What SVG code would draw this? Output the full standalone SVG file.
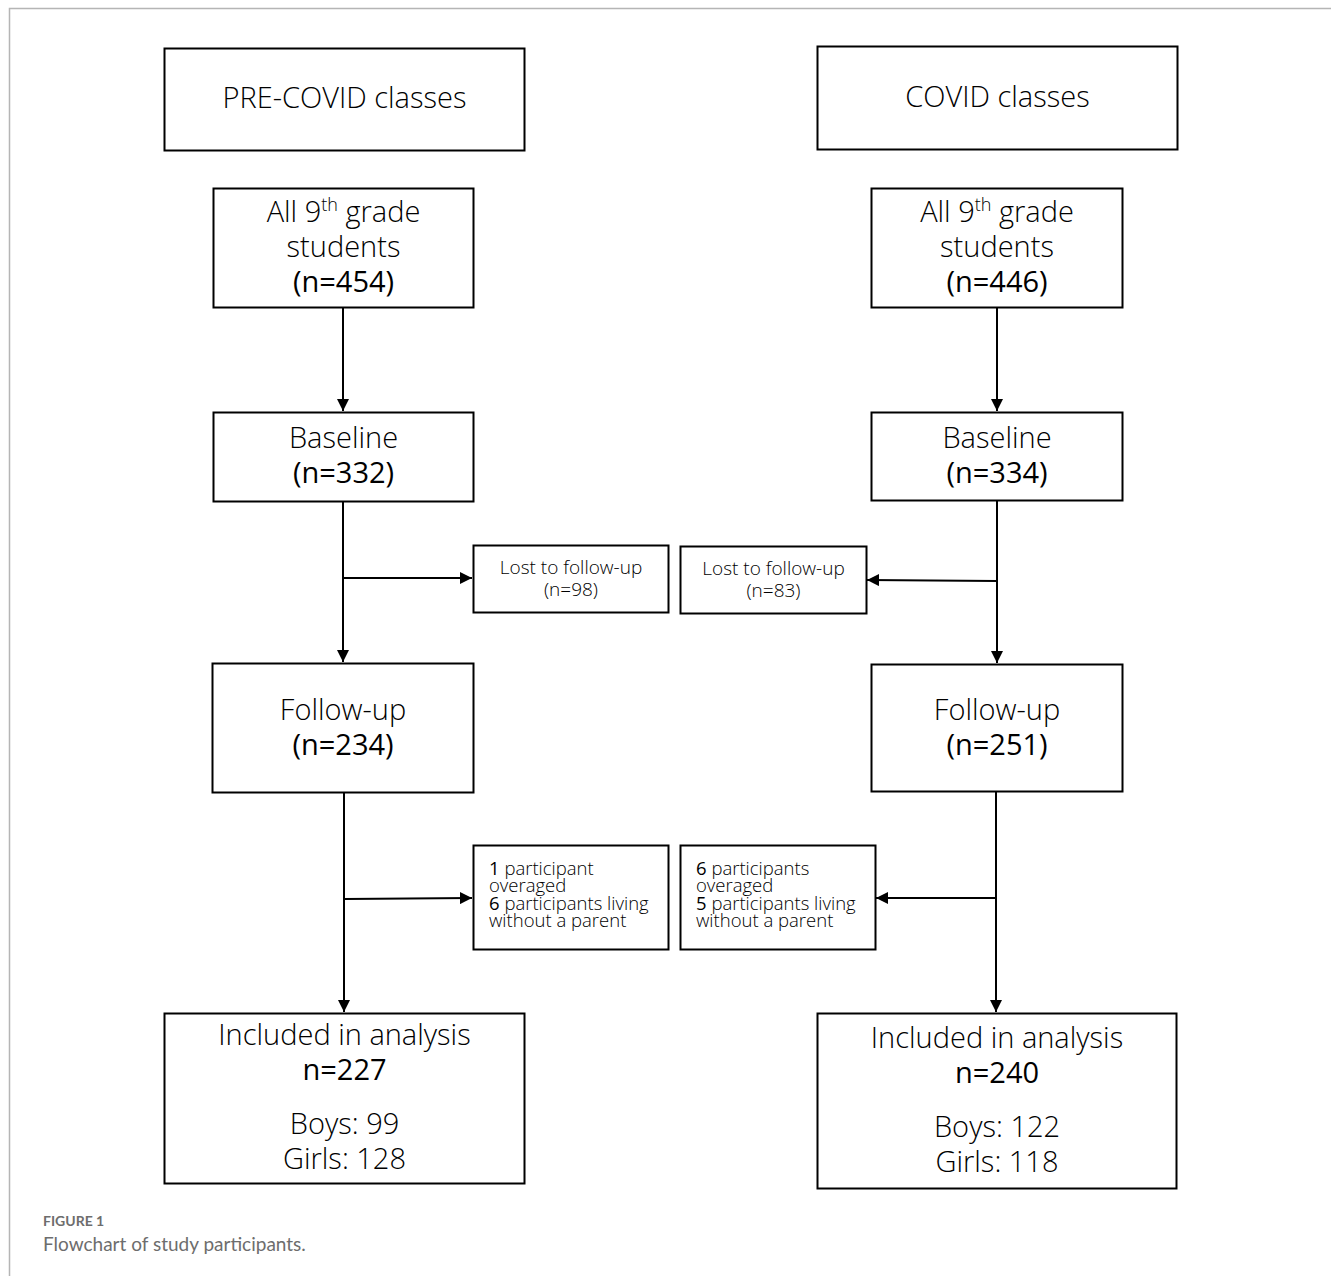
<svg xmlns="http://www.w3.org/2000/svg" width="1331" height="1276" viewBox="0 0 1331 1276">
<defs>
<marker id="ah" viewBox="0 0 10 10" refX="10" refY="5" markerWidth="6" markerHeight="6" markerUnits="strokeWidth" orient="auto">
<path d="M0,0 L10,5 L0,10 z" fill="#000"/>
</marker>
<style>
.box{fill:#fff;stroke:#000;stroke-width:2}
.t{font-family:"Open Sans","Noto Sans",sans-serif;font-weight:300;fill:#000;text-anchor:middle}
.big{font-size:29px}
.sm{font-size:19px}
.reg{font-weight:400}
.ex{font-family:"Open Sans","Noto Sans",sans-serif;font-weight:300;fill:#000;font-size:18.5px}
.ln{fill:none;stroke:#000;stroke-width:2;marker-end:url(#ah)}
.cap{font-family:"Lato","Open Sans",sans-serif;fill:#6d6d6d}
</style>
</defs>
<rect width="1331" height="1276" fill="#fff"/>
<path d="M9.5,1276 V8.5 H1331" fill="none" stroke="#b5b5b5" stroke-width="1.5"/>

<g id="connectors">
<line class="ln" x1="343" y1="307" x2="343" y2="411"/>
<line class="ln" x1="343" y1="501" x2="343" y2="662"/>
<line class="ln" x1="343" y1="578" x2="472" y2="578"/>
<line class="ln" x1="344" y1="792" x2="344" y2="1012"/>
<line class="ln" x1="345" y1="899" x2="472" y2="898"/>
<line class="ln" x1="997" y1="307" x2="997" y2="411"/>
<line class="ln" x1="997" y1="500" x2="997" y2="663"/>
<line class="ln" x1="997" y1="581" x2="867" y2="580"/>
<line class="ln" x1="996" y1="791" x2="996" y2="1012"/>
<line class="ln" x1="996" y1="898" x2="876" y2="898"/>
</g>

<g id="pre-covid">
<rect class="box" x="164.5" y="48.5" width="360" height="102"/>
<text class="t big" x="344.5" y="108">PRE-COVID classes</text>
</g>
<g id="covid">
<rect class="box" x="817.5" y="46.5" width="360" height="103"/>
<text class="t big" x="997.5" y="107">COVID classes</text>
</g>

<g id="all-left">
<rect class="box" x="213.5" y="188.5" width="260" height="119"/>
<text class="t big" x="343.5" y="222">All 9<tspan font-size="18" dy="-11">th</tspan><tspan dy="11"> grade</tspan></text>
<text class="t big" x="343.5" y="257">students</text>
<text class="t big reg" x="343.5" y="292">(n=454)</text>
</g>
<g id="all-right">
<rect class="box" x="871.5" y="188.5" width="251" height="119"/>
<text class="t big" x="997" y="222">All 9<tspan font-size="18" dy="-11">th</tspan><tspan dy="11"> grade</tspan></text>
<text class="t big" x="997" y="257">students</text>
<text class="t big reg" x="997" y="292">(n=446)</text>
</g>

<g id="baseline-left">
<rect class="box" x="213.5" y="412.5" width="260" height="89"/>
<text class="t big" x="343.5" y="448">Baseline</text>
<text class="t big reg" x="343.5" y="483">(n=332)</text>
</g>
<g id="baseline-right">
<rect class="box" x="871.5" y="412.5" width="251" height="88"/>
<text class="t big" x="997" y="448">Baseline</text>
<text class="t big reg" x="997" y="483">(n=334)</text>
</g>

<g id="lost-left">
<rect class="box" x="473.5" y="545.5" width="195" height="67"/>
<text class="t sm" x="571" y="574">Lost to follow-up</text>
<text class="t sm" x="571" y="596">(n=98)</text>
</g>
<g id="lost-right">
<rect class="box" x="680.5" y="546.5" width="186" height="67"/>
<text class="t sm" x="773.5" y="575">Lost to follow-up</text>
<text class="t sm" x="773.5" y="597">(n=83)</text>
</g>

<g id="followup-left">
<rect class="box" x="212.5" y="663.5" width="261" height="129"/>
<text class="t big" x="343" y="720">Follow-up</text>
<text class="t big reg" x="343" y="755">(n=234)</text>
</g>
<g id="followup-right">
<rect class="box" x="871.5" y="664.5" width="251" height="127"/>
<text class="t big" x="997" y="720">Follow-up</text>
<text class="t big reg" x="997" y="755">(n=251)</text>
</g>

<g id="excl-left">
<rect class="box" x="473.5" y="845.5" width="195" height="104"/>
<text class="ex" x="489" y="875"><tspan class="reg">1</tspan> participant</text>
<text class="ex" x="489" y="892">overaged</text>
<text class="ex" x="489" y="910"><tspan class="reg">6</tspan> participants living</text>
<text class="ex" x="489" y="927">without a parent</text>
</g>
<g id="excl-right">
<rect class="box" x="680.5" y="845.5" width="195" height="104"/>
<text class="ex" x="696" y="875"><tspan class="reg">6</tspan> participants</text>
<text class="ex" x="696" y="892">overaged</text>
<text class="ex" x="696" y="910"><tspan class="reg">5</tspan> participants living</text>
<text class="ex" x="696" y="927">without a parent</text>
</g>

<g id="included-left">
<rect class="box" x="164.5" y="1013.5" width="360" height="170"/>
<text class="t big" x="344.5" y="1045">Included in analysis</text>
<text class="t big reg" x="344.5" y="1080">n=227</text>
<text class="t big" x="344.5" y="1134">Boys: 99</text>
<text class="t big" x="344.5" y="1169">Girls: 128</text>
</g>
<g id="included-right">
<rect class="box" x="817.5" y="1013.5" width="359" height="175"/>
<text class="t big" x="997" y="1048">Included in analysis</text>
<text class="t big reg" x="997" y="1083">n=240</text>
<text class="t big" x="997" y="1137">Boys: 122</text>
<text class="t big" x="997" y="1172">Girls: 118</text>
</g>

<text class="cap" x="43" y="1226" font-size="14" font-weight="700">FIGURE 1</text>
<text class="cap" x="43" y="1251" font-size="19">Flowchart of study participants.</text>
</svg>
